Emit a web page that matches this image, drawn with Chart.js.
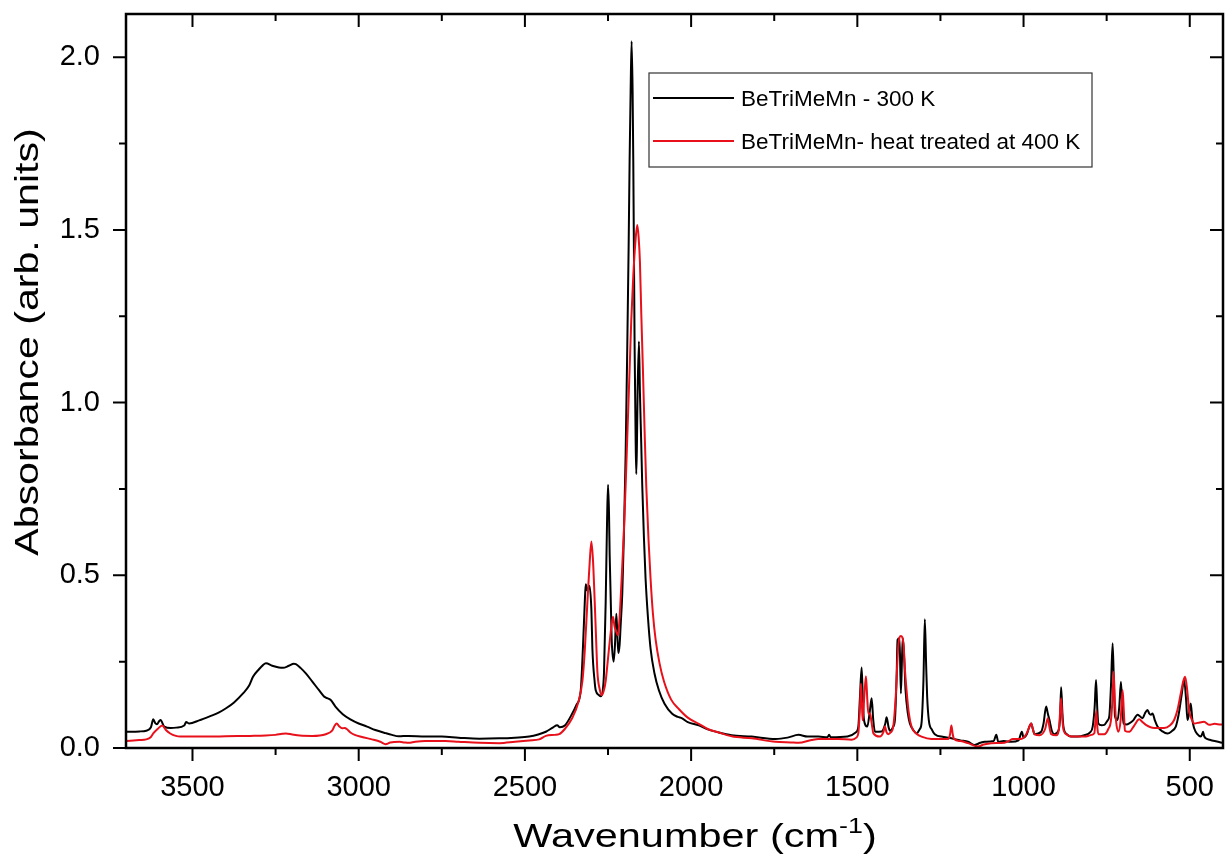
<!DOCTYPE html>
<html><head><meta charset="utf-8">
<script src="https://cdn.jsdelivr.net/npm/chart.js@4.4.1/dist/chart.umd.min.js"></script>
<style>html,body{margin:0;padding:0;background:#fff;}#wrap{width:1225px;height:865px;}</style>
</head><body><div id="wrap"><canvas id="c" width="1225" height="865"></canvas></div>
<script>
const seriesLabels = ['BeTriMeMn - 300 K', 'BeTriMeMn- heat treated at 400 K'];
const xTitleMain = 'Wavenumber (cm';
const xTitleSup = '-1';
const xTitleEnd = ')';
const yTitle = 'Absorbance (arb. units)';
const xTickValues = [3500,3250,3000,2750,2500,2250,2000,1750,1500,1250,1000,750,500];
const xMajorTicks = [3500, 3000, 2500, 2000, 1500, 1000, 500];
const yTickValues = [0,0.25,0.5,0.75,1.0,1.25,1.5,1.75,2.0];
const yMajorTicks = [0, 0.5, 1.0, 1.5, 2.0];

const blackWavenumber = [3700,3660,3639,3625,3618,3612,3607,3600,3596,3585,3565,3549,3525,3519,3510,3480,3450,3420,3399,3375,3348,3330,3318,3300,3288,3279,3260,3240,3228,3210,3195,3189,3175,3159,3140,3120,3105,3099,3084,3070,3048,3025,3000,2975,2950,2919,2900,2880,2850,2800,2750,2700,2637,2577,2530,2487,2460,2437,2415,2403,2395,2380,2358,2345,2332,2325,2320,2317,2312,2306,2300,2297,2290,2287,2277,2272,2266,2262,2257,2253,2250,2247,2245,2239,2233,2229,2225,2222,2219,2215,2212,2207,2202,2197,2192,2188,2185,2182,2179,2176,2174,2170,2167,2165,2163,2161,2157,2154,2150,2147,2142,2137,2130,2122,2110,2097,2080,2057,2040,2027,2010,1977,1950,1917,1878,1818,1746,1710,1677,1650,1617,1590,1585,1580,1530,1505,1497,1492,1487,1483,1480,1470,1462,1457,1452,1447,1427,1416,1412,1406,1402,1392,1387,1382,1379,1373,1369,1365,1363,1359,1355,1348,1342,1330,1322,1312,1307,1301,1297,1293,1290,1285,1275,1267,1240,1217,1190,1167,1147,1130,1117,1090,1082,1076,1060,1037,1015,1005,1000,990,985,977,972,967,947,940,932,927,922,915,907,895,890,887,883,880,870,857,837,817,800,792,786,782,778,775,765,757,747,742,737,732,728,725,717,712,707,703,699,690,682,670,657,650,642,635,627,622,617,612,605,597,582,567,555,542,537,532,525,517,511,507,502,497,492,487,477,467,462,460,457,452,440,425,407,400];
const blackAbsorbance = [0.047,0.048,0.050,0.060,0.083,0.072,0.069,0.078,0.081,0.062,0.058,0.059,0.065,0.075,0.071,0.080,0.091,0.103,0.115,0.132,0.158,0.180,0.206,0.228,0.240,0.245,0.238,0.233,0.232,0.238,0.244,0.243,0.232,0.216,0.193,0.168,0.150,0.146,0.139,0.120,0.098,0.083,0.071,0.062,0.052,0.043,0.038,0.034,0.035,0.033,0.033,0.030,0.027,0.028,0.030,0.033,0.039,0.047,0.060,0.066,0.060,0.065,0.099,0.125,0.167,0.300,0.420,0.474,0.455,0.470,0.400,0.288,0.190,0.167,0.153,0.150,0.165,0.221,0.423,0.650,0.762,0.680,0.557,0.315,0.250,0.300,0.389,0.330,0.275,0.300,0.355,0.450,0.625,0.850,1.164,1.450,1.703,1.900,2.046,1.900,1.700,1.164,0.900,0.793,0.880,1.030,1.177,1.030,0.880,0.760,0.610,0.490,0.380,0.288,0.215,0.167,0.128,0.099,0.090,0.086,0.075,0.066,0.054,0.045,0.037,0.033,0.026,0.030,0.038,0.033,0.033,0.031,0.038,0.031,0.033,0.045,0.062,0.150,0.233,0.130,0.081,0.062,0.110,0.144,0.080,0.047,0.048,0.070,0.089,0.060,0.050,0.062,0.081,0.200,0.313,0.318,0.158,0.280,0.318,0.260,0.168,0.100,0.071,0.050,0.042,0.055,0.071,0.200,0.373,0.240,0.150,0.081,0.052,0.040,0.032,0.028,0.022,0.018,0.009,0.015,0.018,0.020,0.038,0.018,0.020,0.018,0.022,0.047,0.030,0.040,0.055,0.071,0.055,0.040,0.047,0.070,0.120,0.100,0.081,0.050,0.040,0.050,0.090,0.176,0.100,0.062,0.040,0.033,0.033,0.037,0.045,0.062,0.120,0.197,0.110,0.071,0.066,0.067,0.080,0.092,0.180,0.303,0.180,0.092,0.081,0.120,0.192,0.120,0.071,0.068,0.071,0.080,0.096,0.092,0.086,0.100,0.110,0.100,0.096,0.100,0.080,0.062,0.048,0.042,0.048,0.062,0.080,0.105,0.150,0.197,0.140,0.081,0.100,0.129,0.080,0.058,0.040,0.033,0.042,0.047,0.035,0.028,0.024,0.020,0.016,0.015];

const redWavenumber = [3700,3660,3639,3625,3618,3605,3591,3580,3567,3550,3537,3450,3400,3327,3280,3250,3230,3219,3200,3177,3140,3099,3080,3072,3066,3058,3050,3042,3036,3025,3012,2990,2960,2935,2919,2905,2877,2862,2850,2830,2800,2739,2700,2637,2577,2530,2487,2457,2437,2410,2397,2380,2358,2340,2327,2320,2312,2305,2300,2295,2290,2286,2282,2275,2269,2263,2257,2252,2247,2240,2235,2230,2227,2220,2215,2209,2203,2197,2191,2185,2180,2174,2168,2162,2158,2154,2150,2145,2140,2135,2128,2122,2115,2107,2095,2082,2060,2037,2010,1977,1950,1917,1878,1818,1746,1700,1677,1638,1617,1557,1517,1503,1497,1492,1489,1486,1484,1479,1474,1470,1467,1462,1460,1455,1452,1432,1422,1417,1412,1407,1400,1392,1385,1377,1369,1361,1357,1352,1345,1337,1320,1307,1277,1227,1221,1217,1213,1209,1190,1167,1137,1120,1097,1057,1045,1032,1007,995,987,977,972,967,952,935,927,922,917,902,893,887,883,879,868,857,817,795,787,781,778,775,757,745,737,732,729,725,722,715,708,702,698,695,682,667,652,642,632,607,577,560,547,537,527,519,514,508,502,495,487,470,457,442,425,407,400];
const redAbsorbance = [0.020,0.023,0.025,0.032,0.042,0.055,0.065,0.052,0.042,0.035,0.033,0.033,0.034,0.035,0.036,0.038,0.041,0.042,0.039,0.036,0.035,0.040,0.050,0.065,0.071,0.062,0.057,0.058,0.055,0.045,0.038,0.032,0.025,0.018,0.011,0.016,0.018,0.016,0.015,0.018,0.020,0.020,0.018,0.015,0.014,0.018,0.022,0.025,0.035,0.038,0.040,0.055,0.086,0.130,0.194,0.280,0.423,0.540,0.598,0.540,0.423,0.320,0.221,0.170,0.153,0.165,0.194,0.240,0.288,0.350,0.380,0.350,0.342,0.326,0.380,0.490,0.610,0.760,0.930,1.096,1.240,1.366,1.460,1.514,1.480,1.407,1.260,1.096,0.920,0.760,0.600,0.490,0.390,0.315,0.245,0.194,0.140,0.113,0.088,0.070,0.055,0.045,0.034,0.028,0.018,0.016,0.015,0.023,0.026,0.026,0.024,0.030,0.043,0.120,0.187,0.120,0.080,0.150,0.208,0.140,0.100,0.100,0.092,0.060,0.043,0.033,0.045,0.062,0.045,0.040,0.045,0.062,0.140,0.293,0.324,0.300,0.230,0.168,0.100,0.062,0.040,0.033,0.026,0.026,0.040,0.065,0.040,0.026,0.020,0.014,0.004,0.010,0.014,0.015,0.020,0.026,0.026,0.035,0.050,0.071,0.055,0.040,0.037,0.055,0.086,0.060,0.040,0.037,0.060,0.144,0.080,0.050,0.038,0.033,0.033,0.038,0.043,0.108,0.060,0.040,0.040,0.055,0.081,0.150,0.221,0.130,0.081,0.047,0.080,0.168,0.100,0.050,0.047,0.065,0.083,0.075,0.067,0.058,0.058,0.065,0.081,0.110,0.158,0.195,0.206,0.170,0.110,0.085,0.071,0.074,0.076,0.067,0.070,0.068,0.068];

const FONT = "'Liberation Sans', Arial, Helvetica, sans-serif";
const toPoints = (xs, ys) => xs.map((x, i) => ({x: x, y: ys[i]}));
const isMajor = (v, list) => list.some(m => Math.abs(m - v) < 1e-6);
const zeroPad = s => { s.paddingLeft = 0; s.paddingRight = 0; s.paddingTop = 0; s.paddingBottom = 0; };

const decorPlugin = {
  id: 'decor',
  afterDraw(chart) {
    const ctx = chart.ctx;
    const a = chart.chartArea;
    const xs = chart.scales.x, ys = chart.scales.y;
    ctx.save();
    ctx.strokeStyle = '#000';
    ctx.lineWidth = 2.5;
    ctx.strokeRect(a.left, a.top, a.right - a.left, a.bottom - a.top);
    ctx.lineWidth = 2;
    ctx.beginPath();
    xs.ticks.forEach(t => {
      const p = xs.getPixelForValue(t.value);
      const len = isMajor(t.value, xMajorTicks) ? 13 : 7;
      ctx.moveTo(p, a.bottom); ctx.lineTo(p, a.bottom + len);
      ctx.moveTo(p, a.top); ctx.lineTo(p, a.top + len);
    });
    ys.ticks.forEach(t => {
      const p = ys.getPixelForValue(t.value);
      const len = isMajor(t.value, yMajorTicks) ? 13 : 7;
      ctx.moveTo(a.left - len, p); ctx.lineTo(a.left, p);
      ctx.moveTo(a.right, p); ctx.lineTo(a.right - len, p);
    });
    ctx.stroke();

    // legend box
    const bx = 649, by = 73, bw = 443, bh = 94;
    ctx.lineWidth = 1.2;
    ctx.strokeStyle = '#333';
    ctx.fillStyle = '#fff';
    ctx.fillRect(bx, by, bw, bh);
    ctx.strokeRect(bx, by, bw, bh);
    const rows = [98, 141];
    chart.data.datasets.forEach((ds, i) => {
      const y = rows[i];
      ctx.strokeStyle = ds.borderColor;
      ctx.lineWidth = 2;
      ctx.beginPath(); ctx.moveTo(653, y); ctx.lineTo(734, y); ctx.stroke();
      ctx.fillStyle = '#000';
      ctx.font = '22.5px ' + FONT;
      ctx.textAlign = 'left';
      ctx.textBaseline = 'middle';
      ctx.fillText(ds.label, 741, y + 2);
    });

    // x title
    ctx.fillStyle = '#000';
    ctx.textBaseline = 'alphabetic';
    ctx.textAlign = 'left';
    const sx = 1.22;
    ctx.font = '34px ' + FONT;
    const w1 = ctx.measureText(xTitleMain).width * sx;
    const w3 = ctx.measureText(xTitleEnd).width * sx;
    ctx.font = '22px ' + FONT;
    const w2 = ctx.measureText(xTitleSup).width * sx;
    const total = w1 + w2 + w3;
    let x0 = 695 - total / 2;
    const base = 847;
    const drawPart = (txt, x, y, size) => {
      ctx.save();
      ctx.translate(x, y);
      ctx.scale(sx, 1);
      ctx.font = size + 'px ' + FONT;
      ctx.fillText(txt, 0, 0);
      ctx.restore();
    };
    drawPart(xTitleMain, x0, base, 34);
    drawPart(xTitleSup, x0 + w1, base - 14, 22);
    drawPart(xTitleEnd, x0 + w1 + w2, base, 34);

    // y title
    ctx.save();
    ctx.translate(38, 342);
    ctx.rotate(-Math.PI / 2);
    ctx.scale(1.21, 1);
    ctx.font = '34px ' + FONT;
    ctx.textAlign = 'center';
    ctx.fillText(yTitle, 0, 0);
    ctx.restore();
    ctx.restore();
  }
};

new Chart(document.getElementById('c'), {
  type: 'line',
  data: {
    datasets: [
      { label: seriesLabels[0], data: toPoints(blackWavenumber, blackAbsorbance), borderColor: '#000000', borderWidth: 2, pointRadius: 0, cubicInterpolationMode: 'monotone', fill: false, order: 1 },
      { label: seriesLabels[1], data: toPoints(redWavenumber, redAbsorbance), borderColor: '#e8101a', borderWidth: 2, pointRadius: 0, cubicInterpolationMode: 'monotone', fill: false, order: 0 }
    ]
  },
  options: {
    responsive: false,
    devicePixelRatio: 1,
    animation: false,
    parsing: false,
    layout: { padding: { top: 14, right: 2, left: 0, bottom: 0 } },
    plugins: { legend: { display: false }, tooltip: { enabled: false }, title: { display: false } },
    scales: {
      x: {
        type: 'linear', reverse: true, min: 400, max: 3700,
        grid: { display: false, drawTicks: false, tickLength: 0 },
        border: { display: false },
        ticks: {
          autoSkip: false, maxRotation: 0, minRotation: 0,
          padding: 23, color: '#000', font: { family: FONT, size: 29 },
          callback: v => isMajor(v, xMajorTicks) ? String(v) : ''
        },
        afterBuildTicks: s => { s.ticks = xTickValues.map(v => ({ value: v })); },
        afterFit: s => { s.height = 117; zeroPad(s); }
      },
      y: {
        type: 'linear', min: 0, max: 2.125,
        grid: { display: false, drawTicks: false, tickLength: 0 },
        border: { display: false },
        ticks: {
          autoSkip: false, padding: 26, color: '#000', font: { family: FONT, size: 29 },
          callback: v => isMajor(v, yMajorTicks) ? v.toFixed(1) : ''
        },
        afterBuildTicks: s => { s.ticks = yTickValues.map(v => ({ value: v })); },
        afterFit: s => { s.width = 126; zeroPad(s); }
      }
    }
  },
  plugins: [decorPlugin]
});
</script></body></html>
